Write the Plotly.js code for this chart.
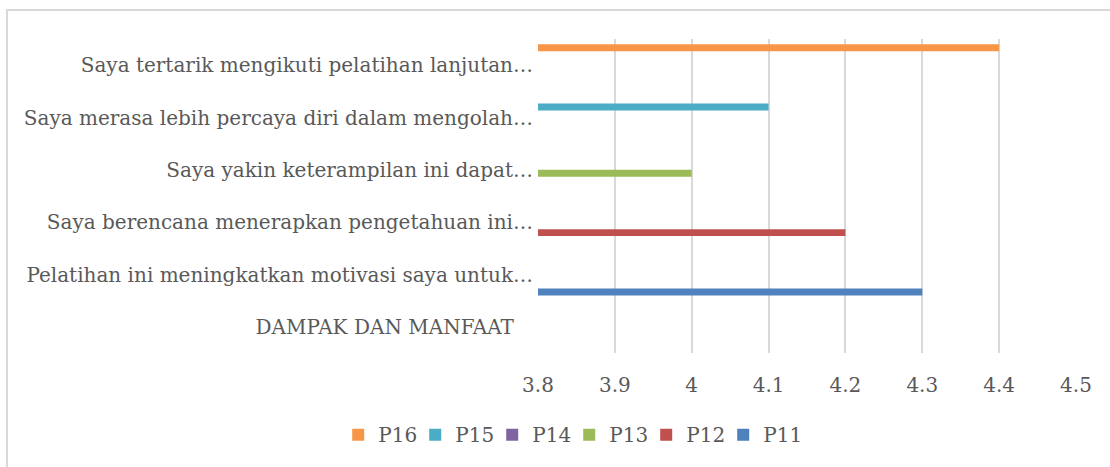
<!DOCTYPE html>
<html>
<head>
<meta charset="utf-8">
<script src="https://cdn.plot.ly/plotly-3.0.1.min.js"></script>
<style>
    html, body { margin: 0; padding: 0; background: #fff; }
    #wrap { position: relative; width: 1110px; height: 467px; overflow: hidden; }
    #chart { width: 1110px; height: 467px; }
    #frame {
        position: absolute; left: 6px; top: 9px; width: 1200px; height: 600px;
        border-left: 2px solid #d9d9d9; border-top: 2px solid #d9d9d9;
        pointer-events: none;
    }
</style>
</head>
<body>
<div id="wrap">
    <div id="chart"></div>
    <div id="frame"></div>
</div>
<script>
// categories, bottom to top (as on the y axis)
const categories = [
    'DAMPAK DAN MANFAAT\u00a0\u00a0\u00a0',
    'Pelatihan ini meningkatkan motivasi saya untuk…',
    'Saya berencana menerapkan pengetahuan ini…',
    'Saya yakin keterampilan ini dapat…',
    'Saya merasa lebih percaya diri dalam mengolah…',
    'Saya tertarik mengikuti pelatihan lanjutan…'
];

// one value per category for each series (null = no bar)
const P11 = [null, 4.3, null, null, null, null];
const P12 = [null, null, 4.2, null, null, null];
const P13 = [null, null, null, 4.0, null, null];
const P14 = [null, null, null, null, null, null];
const P15 = [null, null, null, null, 4.1, null];
const P16 = [null, null, null, null, null, 4.4];

const seriesNames = ['P11', 'P12', 'P13', 'P14', 'P15', 'P16'];
const seriesValues = [P11, P12, P13, P14, P15, P16];
const seriesColors = ['#4f81bd', '#c0504d', '#9bbb59', '#8064a2', '#4bacc6', '#f79646'];

const xTicks = [3.8, 3.9, 4, 4.1, 4.2, 4.3, 4.4, 4.5];

const FONT = 'DejaVu Serif, serif';
const TXT = '#595959';

const traces = seriesNames.map((name, i) => ({
    type: 'bar',
    orientation: 'h',
    name: name,
    y: categories,
    x: seriesValues[i],
    marker: { color: seriesColors[i] },
    hoverinfo: 'x+name'
}));

const layout = {
    width: 1110,
    height: 467,
    margin: { l: 538, r: 34, t: 39, b: 114 },
    paper_bgcolor: '#fff',
    plot_bgcolor: '#fff',
    barmode: 'group',
    bargap: 0.2,
    bargroupgap: 0,
    font: { family: FONT, size: 20, color: TXT },
    xaxis: {
        range: [3.8, 4.5],
        tickvals: xTicks,
        ticktext: xTicks.map(String),
        showgrid: true,
        gridcolor: '#d9d9d9',
        gridwidth: 2,
        zeroline: false,
        showline: false,
        ticks: '',
        ticklabelstandoff: 18,
        tickfont: { family: FONT, size: 20, color: TXT },
        fixedrange: true
    },
    yaxis: {
        type: 'category',
        categoryorder: 'array',
        categoryarray: categories,
        showgrid: false,
        zeroline: false,
        showline: false,
        ticks: '',
        ticklabelstandoff: 4,
        tickfont: { family: FONT, size: 20, color: TXT },
        fixedrange: true
    },
    showlegend: true,
    legend: {
        orientation: 'h',
        traceorder: 'reversed',
        x: 0.058,
        xanchor: 'center',
        y: -0.26,
        yanchor: 'middle',
        itemwidth: 30,
        entrywidth: 32,
        font: { family: FONT, size: 20, color: TXT },
        itemclick: false,
        itemdoubleclick: false
    }
};

Plotly.newPlot('chart', traces, layout, { displayModeBar: false, staticPlot: true });
</script>
</body>
</html>
